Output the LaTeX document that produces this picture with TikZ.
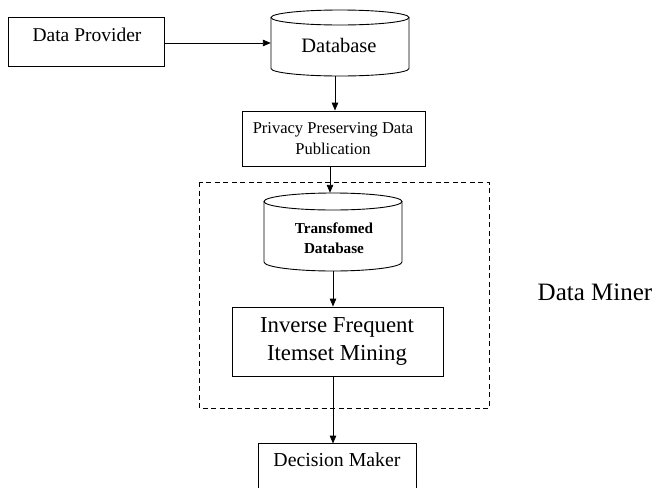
\documentclass[tikz,border=0pt]{standalone}
\usepackage{fontspec}
\setmainfont{Liberation Serif}
\usetikzlibrary{arrows.meta}
\begin{document}
\begin{tikzpicture}[x=1pt,y=-1pt,
  box/.style={draw,line width=0.9pt,inner sep=0pt,minimum width=#1},
  area/.style={inner sep=0pt},
  arr/.style={draw,line width=0.9pt,-{Triangle[length=8pt,width=6.5pt]}},
  lbl/.style={inner sep=0pt,align=center}]
\useasboundingbox (0,0) rectangle (657,488);
\clip (0,0) rectangle (657,488);
% Data Provider
\node[box=156, minimum height=49] (dp) at (86,41.5) {};
\node[lbl,font=\fontsize{19.5}{22}\selectfont] (dpt) at (87,35) {Data Provider};
% Database cylinder
\node[area, minimum width=138, minimum height=66] (db) at (340,43) {};
\draw[line width=0.9pt] (271,17.5) -- (271,68.5) arc[start angle=180,end angle=360,x radius=69,y radius=-7.5] -- (409,17.5);
\draw[line width=0.9pt] (340,17.5) ellipse[x radius=69,y radius=7.5];
\node[lbl,font=\fontsize{20.5}{22}\selectfont] (dbt) at (339,45) {Database};
% Privacy box
\node[box=183, minimum height=55] (pp) at (333.5,138.5) {};
\node[lbl,font=\fontsize{16.5}{21}\selectfont] (ppt) at (333,139) {Privacy Preserving Data\\Publication};
% Dashed area
\draw[line width=0.9pt,dash pattern=on 5pt off 3.5pt] (199,182) rectangle (489,408);
\node[lbl,font=\fontsize{25}{26}\selectfont] (dmn) at (595,292) {Data Miner};
% Transformed database cylinder
\node[area, minimum width=138, minimum height=78] (tdb) at (333,232) {};
\draw[line width=0.9pt] (264,201.5) -- (264,262) arc[start angle=180,end angle=360,x radius=69,y radius=-9] -- (402,201.5);
\draw[line width=0.9pt] (333,201.5) ellipse[x radius=69,y radius=8.5];
\node[lbl,font=\bfseries\fontsize{15.2}{20}\selectfont] (tdbt) at (334,238) {Transfomed\\Database};
% IFIM
\node[box=211, minimum height=69] (im) at (337.5,341.5) {};
\node[lbl,font=\fontsize{22.8}{28}\selectfont] (imt) at (337,341) {Inverse Frequent\\Itemset Mining};
% Decision maker
\node[box=158, minimum height=60] (dm) at (337,473) {};
\node[lbl,font=\fontsize{19.8}{22}\selectfont] (dmt) at (337,460) {Decision Maker};
% connectors
\draw[arr] (dp.east |- db.west) -- (db.west);
\draw[arr] ([xshift=-5pt]db.south) -- ([xshift=-5pt]db.south |- pp.north);
\draw[arr] ([xshift=-3.5pt]pp.south) -- ([xshift=-3.5pt]pp.south |- tdb.north);
\draw[arr] (tdb.south) -- (tdb.south |- im.north);
\draw[arr] ([xshift=-4.5pt]im.south) -- ([xshift=-4.5pt,yshift=-1pt]im.south |- dm.north);
\end{tikzpicture}
\end{document}
